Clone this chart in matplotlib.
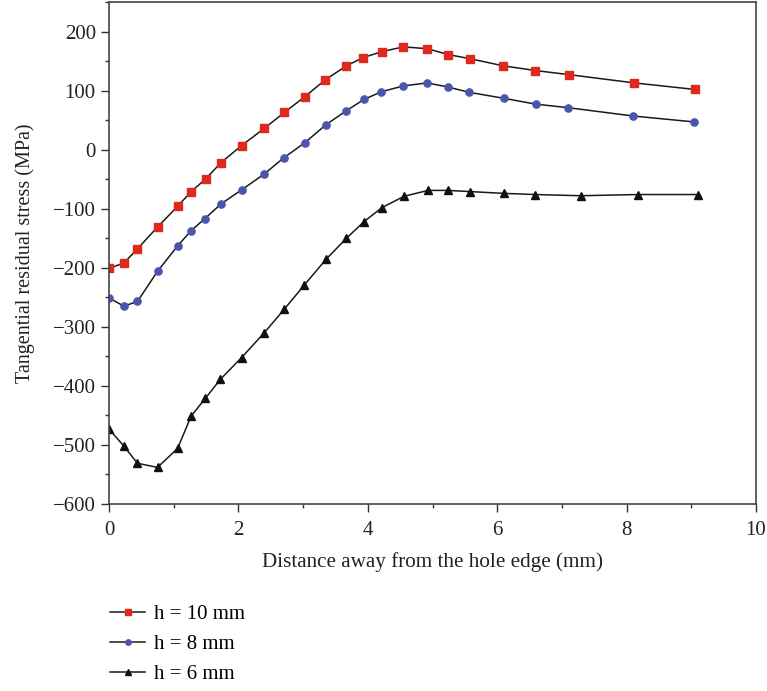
import numpy as np
import matplotlib
matplotlib.use("Agg")
import matplotlib.pyplot as plt
from matplotlib.ticker import MultipleLocator

plt.rcParams['font.family'] = ['Liberation Serif', 'DejaVu Serif']

# h = 10 mm
x10 = [0.0, 0.23, 0.44, 0.75, 1.06, 1.27, 1.50, 1.73, 2.05, 2.40, 2.71, 3.03, 3.34,
       3.67, 3.93, 4.22, 4.55, 4.92, 5.24, 5.58, 6.09, 6.59, 7.11, 8.12, 9.05]
y10 = [-201, -192, -168, -131, -96, -71, -49, -22, 7, 36, 63, 90, 118,
       142, 156, 166, 174, 171, 161, 154, 142, 134, 127, 113, 102]

# h = 8 mm
x8 = [0.0, 0.23, 0.44, 0.75, 1.06, 1.27, 1.48, 1.73, 2.05, 2.39, 2.70, 3.03, 3.35,
      3.67, 3.94, 4.21, 4.55, 4.92, 5.24, 5.57, 6.10, 6.60, 7.10, 8.10, 9.04]
y8 = [-251, -265, -257, -206, -163, -137, -117, -92, -68, -42, -14, 12, 42,
      66, 85, 98, 108, 113, 106, 97, 87, 77, 71, 57, 47]

# h = 6 mm
x6 = [0.0, 0.23, 0.44, 0.75, 1.06, 1.27, 1.49, 1.72, 2.05, 2.40, 2.71, 3.02, 3.36,
      3.67, 3.94, 4.22, 4.56, 4.93, 5.24, 5.58, 6.10, 6.59, 7.29, 8.17, 9.10]
y6 = [-473, -502, -531, -538, -506, -451, -421, -389, -352, -310, -270, -229, -185,
      -150, -122, -98, -79, -69, -69, -71, -74, -76, -78, -76, -76]

fig = plt.figure(figsize=(7.67, 6.91), dpi=100)
ax = fig.add_axes([0.1421, 0.2706, 0.8436, 0.7265])

ax.plot(x10, y10, color='#1a1a1a', lw=1.1, marker='s', ms=5.4,
        mfc='#e0281c', mec='#e0281c', label='h = 10 mm')
ax.plot(x8, y8, color='#1a1a1a', lw=1.1, marker='o', ms=5.2,
        mfc='#4b55b0', mec='#4b55b0', label='h = 8 mm')
ax.plot(x6, y6, color='#1a1a1a', lw=1.1, marker='^', ms=5.5,
        mfc='#111111', mec='#111111', label='h = 6 mm')

ax.set_xlim(0, 10)
ax.set_ylim(-600, 250)
ax.xaxis.set_major_locator(MultipleLocator(2))
ax.xaxis.set_minor_locator(MultipleLocator(1))
ax.set_yticks(np.arange(-600, 201, 100))
ax.set_yticks(np.arange(-600, 251, 50), minor=True)
ax.tick_params(which='major', direction='out', length=6, width=1, labelsize=15,
               color='#333333', labelcolor='#222222')
ax.tick_params(axis='x', which='major', pad=6)
ax.tick_params(which='minor', direction='out', length=3, width=1, color='#333333')
ax.set_yticklabels([str(v).replace('-', '\u2212') for v in range(-600, 201, 100)])
for s in ax.spines.values():
    s.set_color('#444444')
    s.set_linewidth(1.2)

ax.set_xlabel('Distance away from the hole edge (mm)', fontsize=15.2, labelpad=9,
              color='#222222')
ax.set_ylabel('Tangential residual stress (MPa)', fontsize=14.5, labelpad=13,
              color='#222222')

fig.legend(loc='upper left', bbox_to_anchor=(0.1326, 0.137), frameon=False,
           fontsize=15, handlelength=1.68, labelspacing=0.5, markerscale=0.75,
           handletextpad=0.45, borderaxespad=0)

fig.savefig('out.png', dpi=100)
